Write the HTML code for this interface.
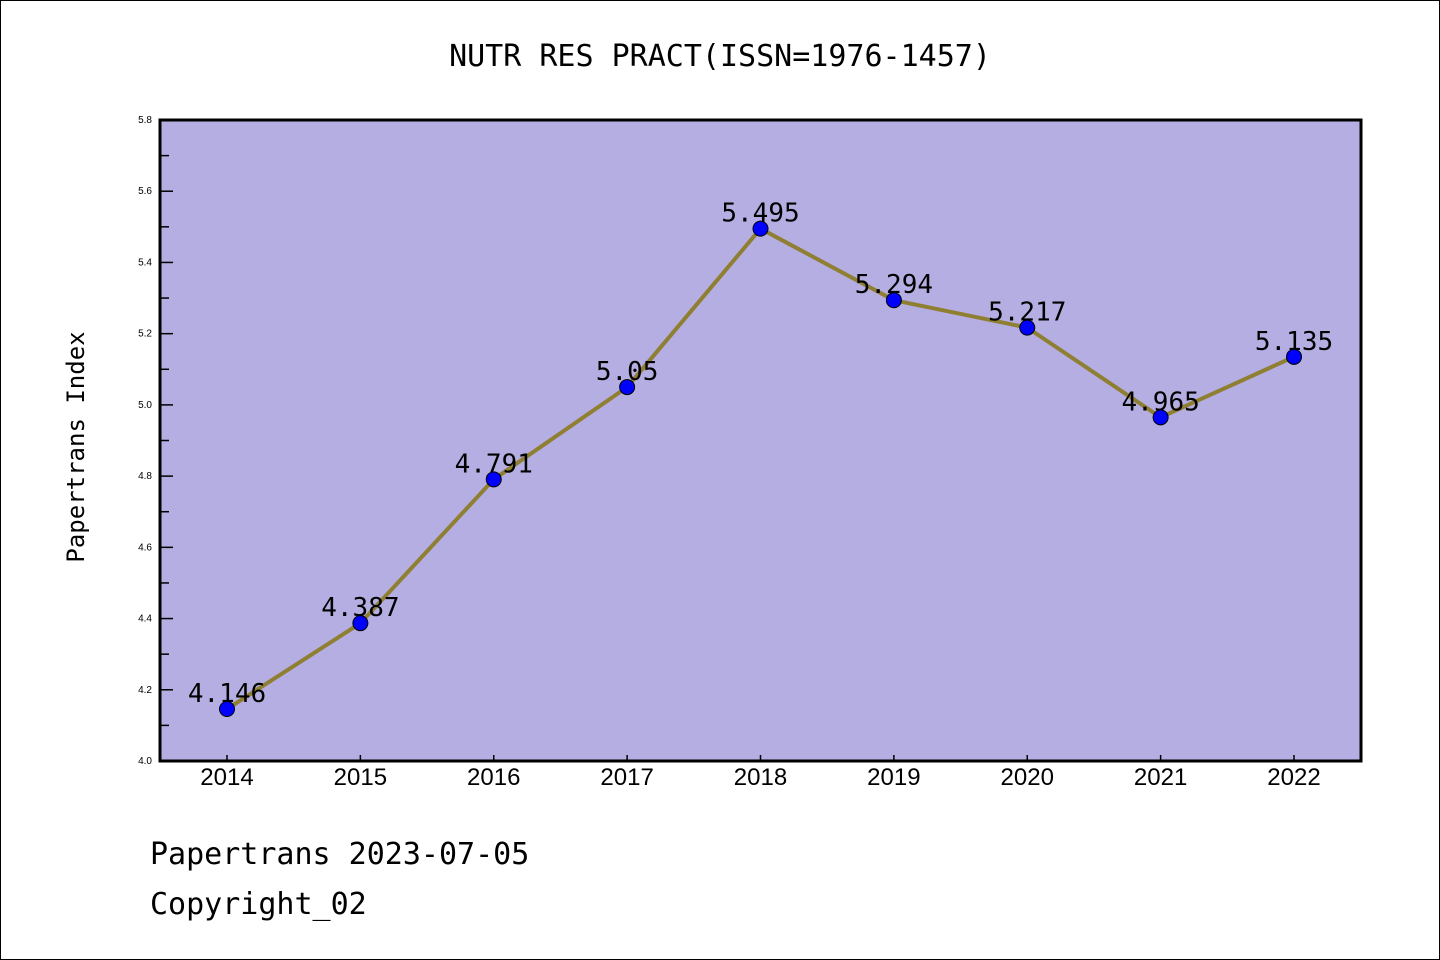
<!DOCTYPE html>
<html><head><meta charset="utf-8"><style>
html,body{margin:0;padding:0;background:#fff}
svg{display:block}
text{font-family:"Liberation Sans","DejaVu Sans",sans-serif}
.mono{font-family:"DejaVu Sans Mono","Liberation Mono",monospace}
</style></head><body>
<svg id="chart" width="1440" height="960">
<rect x="0.5" y="0.5" width="1439" height="959" fill="#fff" stroke="#000"/>
<text class="mono" x="720" y="66" font-size="30" text-anchor="middle">NUTR RES PRACT(ISSN=1976-1457)</text>
<rect x="160" y="120" width="1201" height="641" fill="#b5aee2"/>
<g id="axes"></g>
<g id="series"></g>
<rect x="160" y="120" width="1201" height="641" fill="none" stroke="#000" stroke-width="3"/>
<text class="mono" x="84" y="447" font-size="24" text-anchor="middle" transform="rotate(-90 84 447)">Papertrans Index</text>
<text class="mono" x="150" y="864" font-size="30">Papertrans 2023-07-05</text>
<text class="mono" x="150" y="914" font-size="30">Copyright_02</text>
</svg>
<script>
const years = [2014,2015,2016,2017,2018,2019,2020,2021,2022];
const values = [4.146,4.387,4.791,5.05,5.495,5.294,5.217,4.965,5.135];
const valueLabels = ["4.146","4.387","4.791","5.05","5.495","5.294","5.217","4.965","5.135"];
const yTicks = [4.0,4.2,4.4,4.6,4.8,5.0,5.2,5.4,5.6,5.8];
const yTickLabels = ["4.0","4.2","4.4","4.6","4.8","5.0","5.2","5.4","5.6","5.8"];

const NS="http://www.w3.org/2000/svg";
const X0=160,X1=1361,Y0=761,Y1=120,YMIN=4.0,YMAX=5.8;
function x(i){return 227+i*(1294-227)/(years.length-1);}
function y(v){return Y0-(v-YMIN)/(YMAX-YMIN)*(Y0-Y1);}
function mk(tag,attrs,parent){const e=document.createElementNS(NS,tag);for(const k in attrs)e.setAttribute(k,attrs[k]);parent.appendChild(e);return e;}
const axes=document.getElementById('axes'), series=document.getElementById('series');

yTicks.forEach((v,i)=>{
  const t=mk('line',{x1:X0,x2:X0+13,y1:y(v),y2:y(v),stroke:'#000','stroke-width':1.5},axes);
  
  
  const l=mk('text',{x:X0-8,y:y(v)+3,'font-size':10,'text-anchor':'end'},axes);
  l.textContent=yTickLabels[i];
  
  
  if(i<yTicks.length-1){
    const m=mk('line',{x1:X0,x2:X0+9,y1:y(v+0.1),y2:y(v+0.1),stroke:'#000','stroke-width':1.5},axes);
    
    
  }
});
years.forEach((yr,i)=>{
  const t=mk('line',{x1:x(i),x2:x(i),y1:Y0,y2:Y0-6,stroke:'#000','stroke-width':1.5},axes);
  
  
  const l=mk('text',{x:x(i),y:785,'font-size':24,'text-anchor':'middle'},axes);
  l.textContent=String(yr);
  
  
});
const pts=values.map((v,i)=>x(i)+','+y(v)).join(' ');
const line=mk('polyline',{points:pts,fill:'none',stroke:'#8f7f32','stroke-width':4,'stroke-linejoin':'round'},series);


values.forEach((v,i)=>{
  const l=mk('text',{x:x(i),y:y(v)-7,'font-size':26,'text-anchor':'middle','class':'mono'},series);
  l.textContent=valueLabels[i];
  
  
});
values.forEach((v,i)=>{
  const c=mk('circle',{cx:x(i),cy:y(v),r:7.5,fill:'#0000ff',stroke:'#000','stroke-width':1},series);
  
  
});
</script>
</body></html>
